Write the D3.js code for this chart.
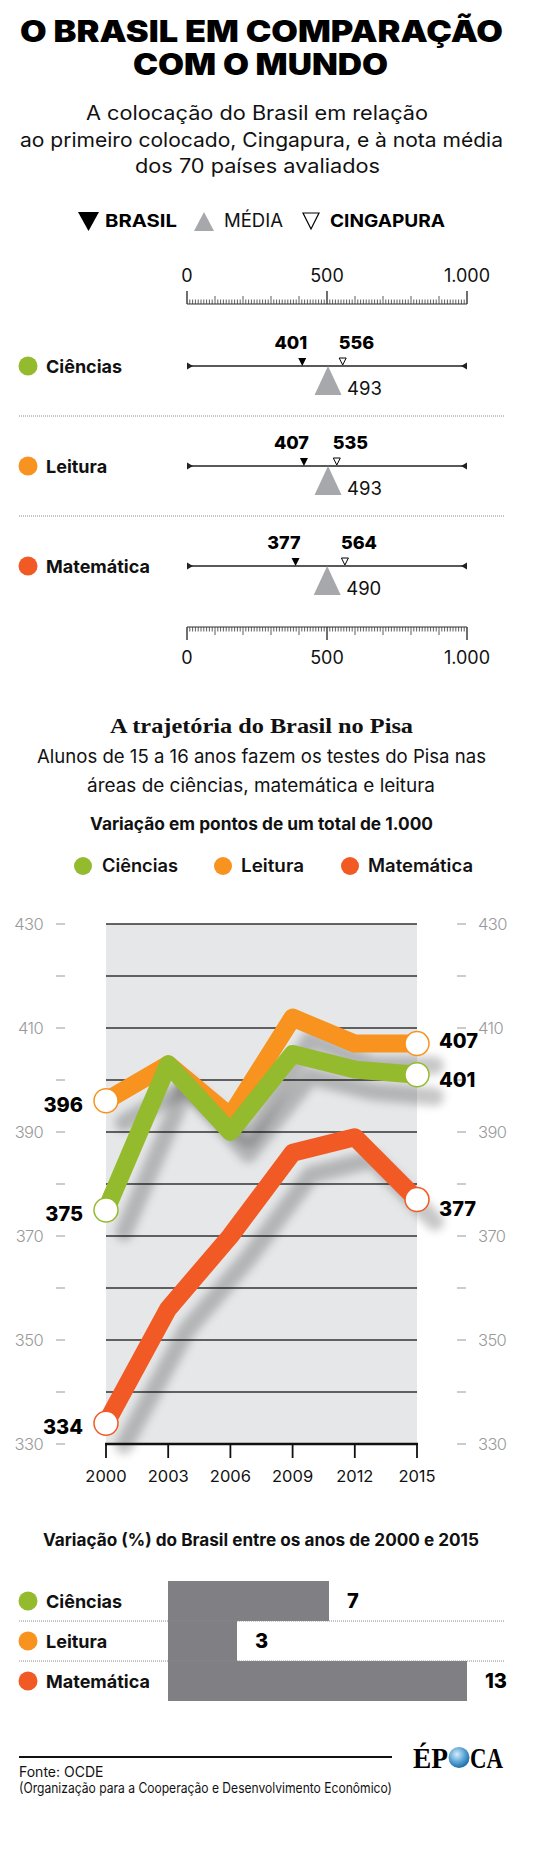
<!DOCTYPE html>
<html>
<head>
<meta charset="utf-8">
<script src="https://cdn.jsdelivr.net/npm/d3@7"></script>
<style>
  html, body { margin: 0; padding: 0; background: #ffffff; }
  svg { display: block; }
</style>
</head>
<body>
<svg id="chart" width="560" height="1865"></svg>
<script>
// ---------------- DATA ----------------
const subjects = ["Ciências", "Leitura", "Matemática"];
const subjectColors = ["#94bb2e", "#f7931e", "#f15a24"];
const brasilScores = [401, 407, 377];
const mediaScores = [493, 493, 490];
const cingapuraScores = [556, 535, 564];
const rulerTickValues = [0, 500, 1000];
const rulerTickLabels = ["0", "500", "1.000"];

const years = [2000, 2003, 2006, 2009, 2012, 2015];
const cienciasSeries = [375, 403, 390, 405, 402, 401];
const leituraSeries = [396, 403, 393, 412, 407, 407];
const matematicaSeries = [334, 356, 370, 386, 389, 377];
const yTickLabels = [330, 350, 370, 390, 410, 430];

const variationValues = [7, 3, 13];

// ---------------- SETUP ----------------
const SANS = "Inter, 'DejaVu Sans', 'Liberation Sans', sans-serif";
const SERIF = "'Liberation Serif', 'DejaVu Serif', serif";
const svg = d3.select("#chart");

function text(x, y, str, o = {}) {
  const t = svg.append("text")
    .attr("x", x).attr("y", y)
    .attr("font-family", o.family || SANS)
    .attr("font-size", o.size || 16)
    .attr("font-weight", o.weight || 400)
    .attr("fill", o.fill || "#111")
    .attr("text-anchor", o.anchor || "start")
    .text(str);
  if (o.len) t.attr("textLength", o.len).attr("lengthAdjust", "spacingAndGlyphs");
  return t;
}

// ---------------- TITLE ----------------
text(261.5, 42, "O BRASIL EM COMPARAÇÃO", {size: 29.5, weight: 900, anchor: "middle", len: 483, fill: "#000"});
text(260.5, 75, "COM O MUNDO", {size: 29.5, weight: 900, anchor: "middle", len: 255, fill: "#000"});
text(257, 120, "A colocação do Brasil em relação", {size: 19.5, anchor: "middle", len: 342});
text(261.5, 147, "ao primeiro colocado, Cingapura, e à nota média", {size: 19.5, anchor: "middle", len: 483});
text(257.5, 173, "dos 70 países avaliados", {size: 19.5, anchor: "middle", len: 245});

// ---------------- LEGEND (markers) ----------------
const triDown = (cx, top, w, h) => `M${cx - w/2},${top}L${cx + w/2},${top}L${cx},${top + h}Z`;
const triUp = (cx, bottom, w, h) => `M${cx - w/2},${bottom}L${cx + w/2},${bottom}L${cx},${bottom - h}Z`;

svg.append("path").attr("d", triDown(88.5, 212, 21, 19)).attr("fill", "#000");
text(105, 227, "BRASIL", {size: 18, weight: 700, len: 72, fill: "#000"});
svg.append("path").attr("d", triUp(204, 231, 20, 19)).attr("fill", "#a7a8ab");
text(224, 227, "MÉDIA", {size: 18, weight: 400, len: 59});
svg.append("path").attr("d", triDown(311, 213, 16, 16)).attr("fill", "#fff").attr("stroke", "#000").attr("stroke-width", 1.2);
text(330, 227, "CINGAPURA", {size: 18, weight: 700, len: 115, fill: "#000"});

// ---------------- RULER ----------------
const rx = d3.scaleLinear().domain([0, 1000]).range([187, 467]);
const minorTicks = rx.ticks(100);

function ruler(lineY, dir, labelY) {
  const g = svg.append("g");
  g.append("line").attr("x1", rx(0)).attr("x2", rx(1000)).attr("y1", lineY).attr("y2", lineY)
    .attr("stroke", "#333").attr("stroke-width", 1.2);
  g.selectAll("line.t").data(minorTicks).join("line").attr("class", "t")
    .attr("x1", d => rx(d)).attr("x2", d => rx(d))
    .attr("y1", lineY)
    .attr("y2", d => lineY + dir * (d % 500 === 0 ? 13 : (d % 100 === 0 ? 8 : 4.5)))
    .attr("stroke", "#333").attr("stroke-width", d => d % 500 === 0 ? 1.4 : 0.8);
  g.selectAll("text").data(rulerTickValues).join("text")
    .attr("x", d => rx(d)).attr("y", labelY)
    .attr("text-anchor", "middle")
    .attr("font-family", SANS).attr("font-size", 18).attr("fill", "#111")
    .text((d, i) => rulerTickLabels[i]);
}
ruler(304, -1, 282);
ruler(627, 1, 664);

const rowY = d3.scalePoint().domain(subjects).range([366, 566]);

// separators
[0, 1].forEach(i => {
  const y = (rowY(subjects[i]) + rowY(subjects[i + 1])) / 2;
  svg.append("line").attr("x1", 19).attr("x2", 504).attr("y1", y).attr("y2", y)
    .attr("stroke", "#8a8a8a").attr("stroke-width", 1).attr("stroke-dasharray", "1,1");
});

subjects.forEach((s, i) => {
  const y = rowY(s);
  svg.append("circle").attr("cx", 28).attr("cy", y).attr("r", 9.5).attr("fill", subjectColors[i]);
  text(46, y + 7, s, {size: 18, weight: 700, fill: "#111"});
  svg.append("line").attr("x1", rx(0)).attr("x2", rx(1000)).attr("y1", y).attr("y2", y)
    .attr("stroke", "#222").attr("stroke-width", 1.3);
  svg.append("path").attr("d", `M${rx(0)},${y - 3.5}L${rx(0) + 6},${y}L${rx(0)},${y + 3.5}Z`).attr("fill", "#222");
  svg.append("path").attr("d", `M${rx(1000)},${y - 3.5}L${rx(1000) - 6},${y}L${rx(1000)},${y + 3.5}Z`).attr("fill", "#222");
  const mx = rx(mediaScores[i]) + 3;
  svg.append("path").attr("d", triUp(mx, y + 29, 27, 29)).attr("fill", "#a7a8ab");
  text(mx + 19, y + 29, mediaScores[i], {size: 18.5});
  const bxp = rx(brasilScores[i]) + 3;
  svg.append("path").attr("d", triDown(bxp, y - 8, 8, 8)).attr("fill", "#000");
  text(bxp + 5, y - 17, brasilScores[i], {size: 18, weight: 800, anchor: "end", fill: "#000"});
  const cx = rx(cingapuraScores[i]);
  svg.append("path").attr("d", triDown(cx, y - 8, 7, 7)).attr("fill", "#fff").attr("stroke", "#000").attr("stroke-width", 1);
  text(cx - 4, y - 17, cingapuraScores[i], {size: 18, weight: 800, fill: "#000"});
});

// ---------------- LINE CHART HEADER ----------------
text(261.5, 733, "A trajetória do Brasil no Pisa", {family: SERIF, size: 22, weight: 700, anchor: "middle", len: 303, fill: "#111"});
text(261.5, 763, "Alunos de 15 a 16 anos fazem os testes do Pisa nas", {size: 18.5, anchor: "middle", len: 449});
text(261, 792, "áreas de ciências, matemática e leitura", {size: 18.5, anchor: "middle", len: 348});
text(261.5, 830, "Variação em pontos de um total de 1.000", {size: 17, weight: 700, anchor: "middle", len: 343, fill: "#111"});

const legendX = [[83, 102, 76], [223, 241, 63], [350, 368, 105]];
subjects.forEach((s, i) => {
  svg.append("circle").attr("cx", legendX[i][0]).attr("cy", 866).attr("r", 9).attr("fill", subjectColors[i]);
  text(legendX[i][1], 872, s, {size: 18, weight: 600, len: legendX[i][2], fill: "#111"});
});

// ---------------- LINE CHART ----------------
const x = d3.scaleLinear().domain([2000, 2015]).range([106, 417]);
const y = d3.scaleLinear().domain([330, 430]).range([1444, 924]);

svg.append("rect").attr("x", x(2000)).attr("y", y(430)).attr("width", x(2015) - x(2000)).attr("height", y(330) - y(430))
  .attr("fill", "#e6e7e8");

const gridVals = d3.range(340, 431, 10);
svg.append("g").selectAll("line").data(gridVals).join("line")
  .attr("x1", x(2000)).attr("x2", x(2015))
  .attr("y1", d => y(d)).attr("y2", d => y(d))
  .attr("stroke", "#333").attr("stroke-width", 1.4);

const dashVals = d3.range(330, 431, 10);
[[56, 65], [457, 466]].forEach(([a, b]) => {
  svg.append("g").selectAll("line").data(dashVals).join("line")
    .attr("x1", a).attr("x2", b).attr("y1", d => y(d)).attr("y2", d => y(d))
    .attr("stroke", "#aaa").attr("stroke-width", 1.2);
});
svg.append("g").selectAll("text").data(yTickLabels).join("text")
  .attr("x", 43).attr("y", d => y(d) + 6).attr("text-anchor", "end")
  .attr("font-family", SANS).attr("font-size", 16.5).attr("font-weight", 300).attr("fill", "#9a9a9a")
  .attr("letter-spacing", -0.6).text(d => d);
svg.append("g").selectAll("text").data(yTickLabels).join("text")
  .attr("x", 478).attr("y", d => y(d) + 6).attr("text-anchor", "start")
  .attr("font-family", SANS).attr("font-size", 16.5).attr("font-weight", 300).attr("fill", "#9a9a9a")
  .attr("letter-spacing", -0.6).text(d => d);

const defs = svg.append("defs");
const f = defs.append("filter").attr("id", "blur").attr("x", "-20%").attr("y", "-20%").attr("width", "140%").attr("height", "140%");
f.append("feGaussianBlur").attr("stdDeviation", 4);
const grad = defs.append("radialGradient").attr("id", "globe").attr("cx", "40%").attr("cy", "35%").attr("r", "65%");
grad.append("stop").attr("offset", "0%").attr("stop-color", "#d8ecf8");
grad.append("stop").attr("offset", "55%").attr("stop-color", "#5fa8d8");
grad.append("stop").attr("offset", "100%").attr("stop-color", "#1f6fa8");

const series = [
  {name: "Matemática", values: matematicaSeries, color: subjectColors[2]},
  {name: "Leitura", values: leituraSeries, color: subjectColors[1]},
  {name: "Ciências", values: cienciasSeries, color: subjectColors[0]}
];
const line = d3.line().x((d, i) => x(years[i])).y(d => y(d));

svg.append("g").attr("filter", "url(#blur)").selectAll("path").data(series).join("path")
  .attr("d", d => line(d.values))
  .attr("transform", "translate(18,22)")
  .attr("fill", "none").attr("stroke", "#000").attr("stroke-opacity", 0.22)
  .attr("stroke-width", 18).attr("stroke-linejoin", "round").attr("stroke-linecap", "round");

svg.append("line").attr("x1", x(2000) - 1).attr("x2", x(2015) + 1).attr("y1", y(330)).attr("y2", y(330))
  .attr("stroke", "#111").attr("stroke-width", 2.5);
svg.append("g").selectAll("line").data(years).join("line")
  .attr("x1", d => x(d)).attr("x2", d => x(d)).attr("y1", y(330)).attr("y2", y(330) + 14)
  .attr("stroke", "#111").attr("stroke-width", 1.8);
svg.append("g").selectAll("text").data(years).join("text")
  .attr("x", d => x(d)).attr("y", 1482).attr("text-anchor", "middle")
  .attr("font-family", SANS).attr("font-size", 16.5).attr("fill", "#111").text(d => d);

svg.append("g").selectAll("path").data(series).join("path")
  .attr("d", d => line(d.values))
  .attr("fill", "none").attr("stroke", d => d.color)
  .attr("stroke-width", 18).attr("stroke-linejoin", "round").attr("stroke-linecap", "round");

series.forEach(s => {
  const first = s.values[0], last = s.values[s.values.length - 1];
  [[years[0], first], [years[years.length - 1], last]].forEach(([yr, v]) => {
    svg.append("circle").attr("cx", x(yr)).attr("cy", y(v)).attr("r", 12)
      .attr("fill", "#fff").attr("stroke", s.color).attr("stroke-width", 1.5);
  });
  text(x(years[0]) - 23, y(first) + 11, first, {size: 20, weight: 800, anchor: "end", fill: "#000"});
  const dyR = s.name === "Leitura" ? 4 : (s.name === "Ciências" ? 12 : 16);
  text(x(years[years.length - 1]) + 22, y(last) + dyR, last, {size: 20, weight: 800, fill: "#000"});
});

// ---------------- BAR CHART ----------------
text(261, 1546, "Variação (%) do Brasil entre os anos de 2000 e 2015", {size: 17, weight: 700, anchor: "middle", len: 436, fill: "#111"});

const by = d3.scaleBand().domain(subjects).range([1581, 1701]).padding(0);
const bx = d3.scaleLinear().domain([0, 13]).range([168, 467]);

svg.append("g").selectAll("rect").data(variationValues).join("rect")
  .attr("x", bx(0)).attr("y", (d, i) => by(subjects[i]))
  .attr("width", d => bx(d) - bx(0)).attr("height", by.bandwidth())
  .attr("fill", "#808084");

[1, 2].forEach(i => {
  const yy = by(subjects[i]);
  svg.append("line").attr("x1", 19).attr("x2", 504).attr("y1", yy).attr("y2", yy)
    .attr("stroke", "#8a8a8a").attr("stroke-width", 1).attr("stroke-dasharray", "1,1");
});

subjects.forEach((s, i) => {
  const cy = by(s) + by.bandwidth() / 2;
  svg.append("circle").attr("cx", 28).attr("cy", cy).attr("r", 9.5).attr("fill", subjectColors[i]);
  text(46, cy + 7, s, {size: 18, weight: 700, fill: "#111"});
  text(bx(variationValues[i]) + 18, cy + 7, variationValues[i], {size: 20, weight: 800, fill: "#000"});
});

// ---------------- FOOTER ----------------
svg.append("line").attr("x1", 19).attr("x2", 392).attr("y1", 1757).attr("y2", 1757).attr("stroke", "#111").attr("stroke-width", 2);
text(19, 1777, "Fonte: OCDE", {size: 14, fill: "#111"});
text(19, 1793, "(Organização para a Cooperação e Desenvolvimento Econômico)", {size: 14, len: 373, fill: "#111"});

// logo: "ÉP" + globe + "CA"
text(413, 1768, "ÉP", {family: SERIF, size: 29, weight: 700, len: 35, fill: "#000"});
svg.append("circle").attr("cx", 459).attr("cy", 1757.5).attr("r", 10.5).attr("fill", "url(#globe)");
text(470, 1768, "CA", {family: SERIF, size: 29, weight: 700, len: 33, fill: "#000"});
</script>
</body>
</html>
